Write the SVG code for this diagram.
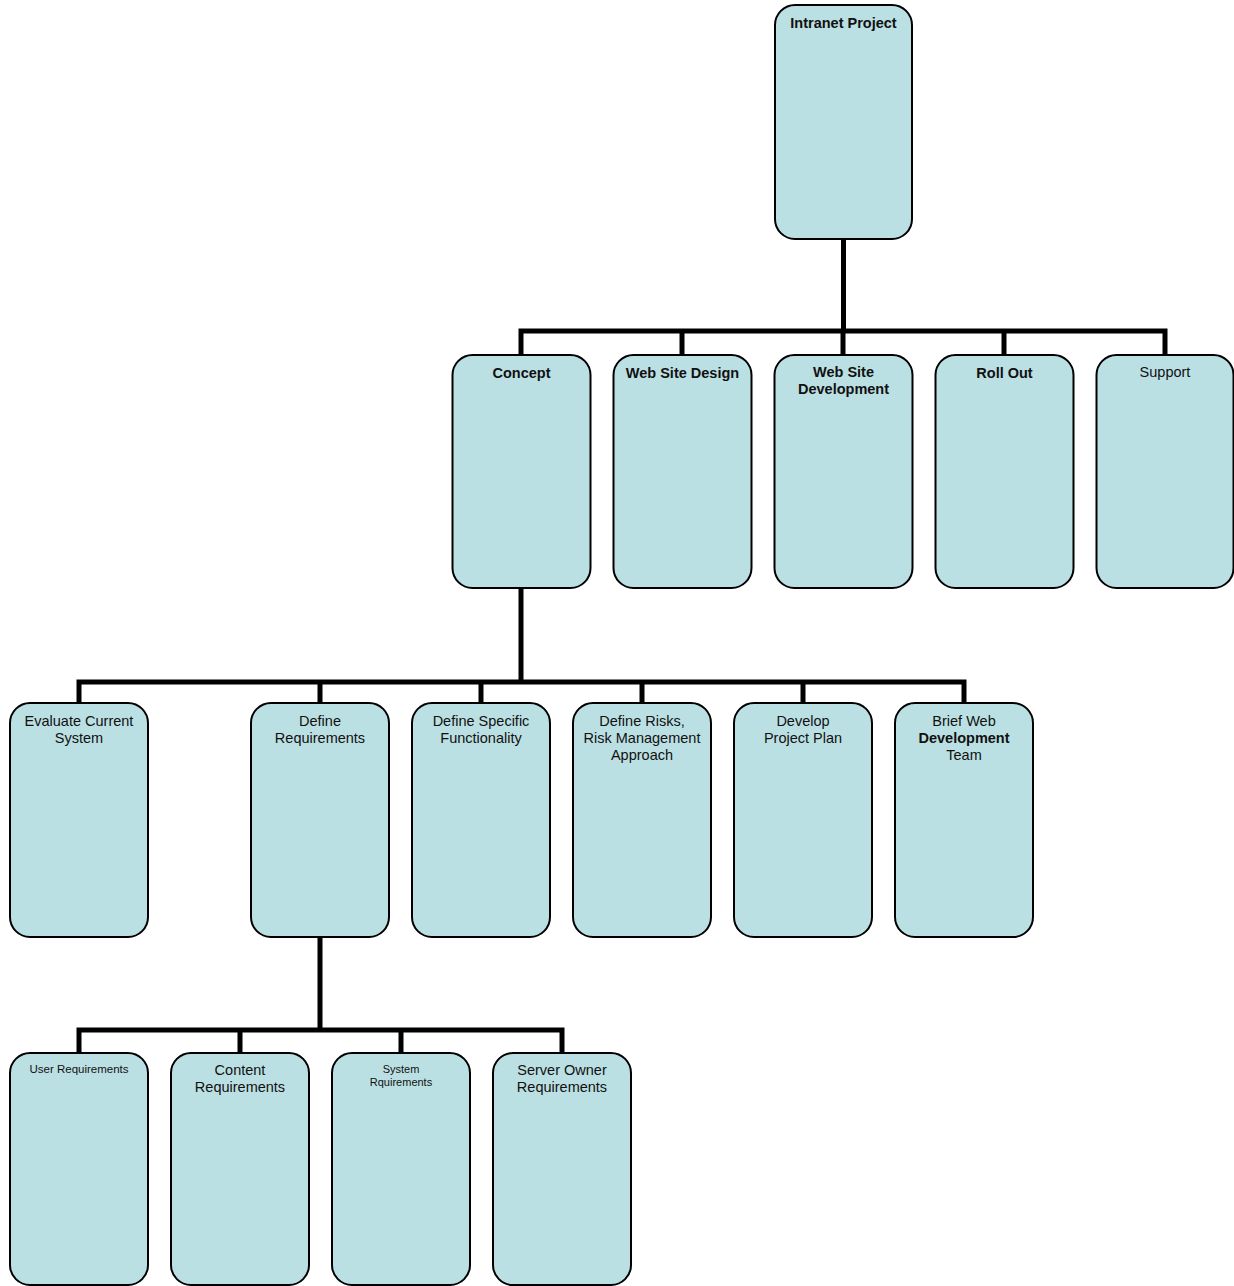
<svg xmlns="http://www.w3.org/2000/svg" width="1234" height="1286" viewBox="0 0 1234 1286">
<style>
.box{fill:#BBE0E3;stroke:#000;stroke-width:2}
.t{font-family:"Liberation Sans",Arial,sans-serif;font-size:14.5px;fill:#111;text-anchor:middle}
.b{font-weight:bold}
.s{font-size:11.5px}
.xs{font-size:11px}
.c{stroke:#000;stroke-width:5;fill:none;stroke-linecap:square}
</style>
<rect width="1234" height="1286" fill="#fff"/>
<g id="connectors">
<path class="c" d="M843.5,239V331M521,331H1165M521,331V355M682,331V355M843,331V355M1004,331V355M1165,331V355"/>
<path class="c" d="M521,588V682M79,682H964M79,682V703M320,682V703M481,682V703M642,682V703M803,682V703M964,682V703"/>
<path class="c" d="M320,937V1030M79,1030H562M79,1030V1053M240,1030V1053M401,1030V1053M562,1030V1053"/>
</g>
<g id="intranet-project"><rect class="box" x="775" y="5" width="137" height="234" rx="20"/><text class="t b" x="843.5" y="28">Intranet Project</text></g>
<g id="concept"><rect class="box" x="452.5" y="355" width="138" height="233" rx="20"/><text class="t b" x="521.5" y="378">Concept</text></g>
<g id="web-site-design"><rect class="box" x="613.5" y="355" width="138" height="233" rx="20"/><text class="t b" x="682.5" y="378">Web Site Design</text></g>
<g id="web-site-development"><rect class="box" x="774.5" y="355" width="138" height="233" rx="20"/><text class="t b" x="843.5" y="377">Web Site</text><text class="t b" x="843.5" y="394">Development</text></g>
<g id="roll-out"><rect class="box" x="935.5" y="355" width="138" height="233" rx="20"/><text class="t b" x="1004.5" y="378">Roll Out</text></g>
<g id="support"><rect class="box" x="1096.5" y="355" width="137" height="233" rx="20"/><text class="t" x="1165" y="377">Support</text></g>
<g id="evaluate-current-system"><rect class="box" x="10" y="703" width="138" height="234" rx="20"/><text class="t" x="79" y="726">Evaluate Current</text><text class="t" x="79" y="743">System</text></g>
<g id="define-requirements"><rect class="box" x="251" y="703" width="138" height="234" rx="20"/><text class="t" x="320" y="726">Define</text><text class="t" x="320" y="743">Requirements</text></g>
<g id="define-specific-functionality"><rect class="box" x="412" y="703" width="138" height="234" rx="20"/><text class="t" x="481" y="726">Define Specific</text><text class="t" x="481" y="743">Functionality</text></g>
<g id="define-risks"><rect class="box" x="573" y="703" width="138" height="234" rx="20"/><text class="t" x="642" y="726">Define Risks,</text><text class="t" x="642" y="743">Risk Management</text><text class="t" x="642" y="760">Approach</text></g>
<g id="develop-project-plan"><rect class="box" x="734" y="703" width="138" height="234" rx="20"/><text class="t" x="803" y="726">Develop</text><text class="t" x="803" y="743">Project Plan</text></g>
<g id="brief-web-development-team"><rect class="box" x="895" y="703" width="138" height="234" rx="20"/><text class="t" x="964" y="726">Brief Web</text><text class="t b" x="964" y="743">Development</text><text class="t" x="964" y="760">Team</text></g>
<g id="user-requirements"><rect class="box" x="10" y="1053" width="138" height="232" rx="20"/><text class="t s" x="79" y="1073">User Requirements</text></g>
<g id="content-requirements"><rect class="box" x="171" y="1053" width="138" height="232" rx="20"/><text class="t" x="240" y="1075">Content</text><text class="t" x="240" y="1092">Requirements</text></g>
<g id="system-requirements"><rect class="box" x="332" y="1053" width="138" height="232" rx="20"/><text class="t xs" x="401" y="1073">System</text><text class="t xs" x="401" y="1086">Rquirements</text></g>
<g id="server-owner-requirements"><rect class="box" x="493" y="1053" width="138" height="232" rx="20"/><text class="t" x="562" y="1075">Server Owner</text><text class="t" x="562" y="1092">Requirements</text></g>
</svg>
